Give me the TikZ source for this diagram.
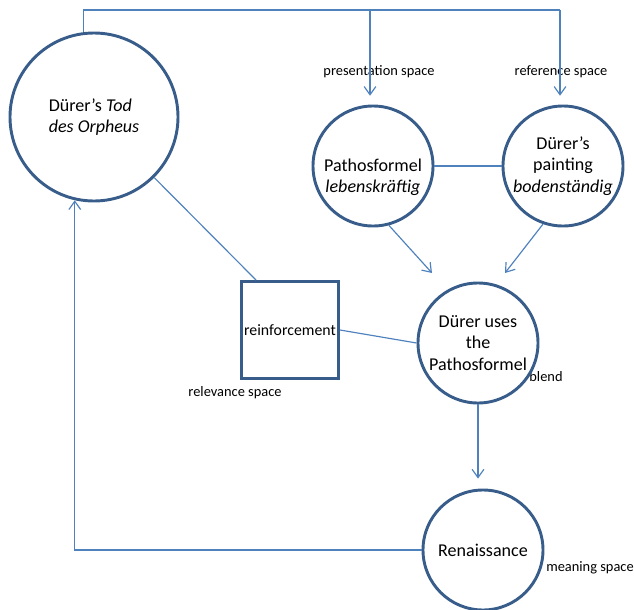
\documentclass[tikz,border=0pt]{standalone}
\usepackage{fontspec}
\setmainfont{Carlito}
\usetikzlibrary{arrows.meta}
\definecolor{rim}{HTML}{385D8A}
\definecolor{link}{HTML}{4F81BD}
\begin{document}
\begin{tikzpicture}[x=0.03cm,y=-0.03cm,
		ball/.style={draw=rim,circle,line width=2.5pt,inner sep=0pt,minimum size=3.6cm,align=center,font=\fontsize{15.4}{18.3}\selectfont},
		tag/.style={inner sep=0pt,font=\fontsize{12.3}{14}\selectfont},
		wire/.style={draw=link,line width=1pt},
		arr/.style={wire,-{Straight Barb[length=7pt,width=10pt]}}]
	\useasboundingbox (0,0) rectangle (634,610);
	\node[tag] (lp) at (379,72) {presentation space};
	\node[tag] (lr) at (561,72) {reference space};
	\node[tag] (lv) at (235,393) {relevance space};
	\node[tag] (lb) at (546,377) {blend};
	\node[tag] (lm) at (590,568) {meaning space};
	\node[ball,minimum size=5.04cm,align=left] (tod) at (94,117) {Dürer’s \textit{Tod}\\\textit{des Orpheus}};
	\node[ball] (pf) at (373,166) {\rule{0pt}{30pt}Pathosformel\\\textit{lebenskräftig}};
	\node[ball] (dp) at (563,166) {Dürer’s\\painting\\\textit{bodenständig}};
	\node[ball] (bl) at (478,343) {Dürer uses\\the\\Pathosformel};
	\node[ball] (ren) at (483,550) {Renaissance};
	\node[draw=rim,line width=2.5pt,inner sep=0pt,minimum size=2.91cm,font=\fontsize{13.5}{16}\selectfont] (sq) at (290,330) {reinforcement};
	\coordinate (t1) at (370,10);
	\coordinate (t2) at (560,10);
	\coordinate (e1) at (432,273);
	\coordinate (e2) at (505,273);
	\draw[wire] (tod.97) |- (t2);
	\draw[arr,shorten >=7.5pt] (t1) -- (t1 |- pf.north);
	\draw[arr,shorten >=7.5pt] (t2) -- (t2 |- dp.north);
	\draw[wire] (pf) -- (dp);
	\draw[arr] (pf.285) -- (e1);
	\draw[arr] (dp.251) -- (e2);
	\draw[wire] (tod) -- ([xshift=0.48cm]sq.north west);
	\draw[wire] (sq.east) -- (bl.west);
	\draw[arr,shorten >=8.5pt] (bl.south) -- (bl.south |- ren.north);
	\draw[arr] (ren.west) -| (tod.257);
\end{tikzpicture}
\end{document}
